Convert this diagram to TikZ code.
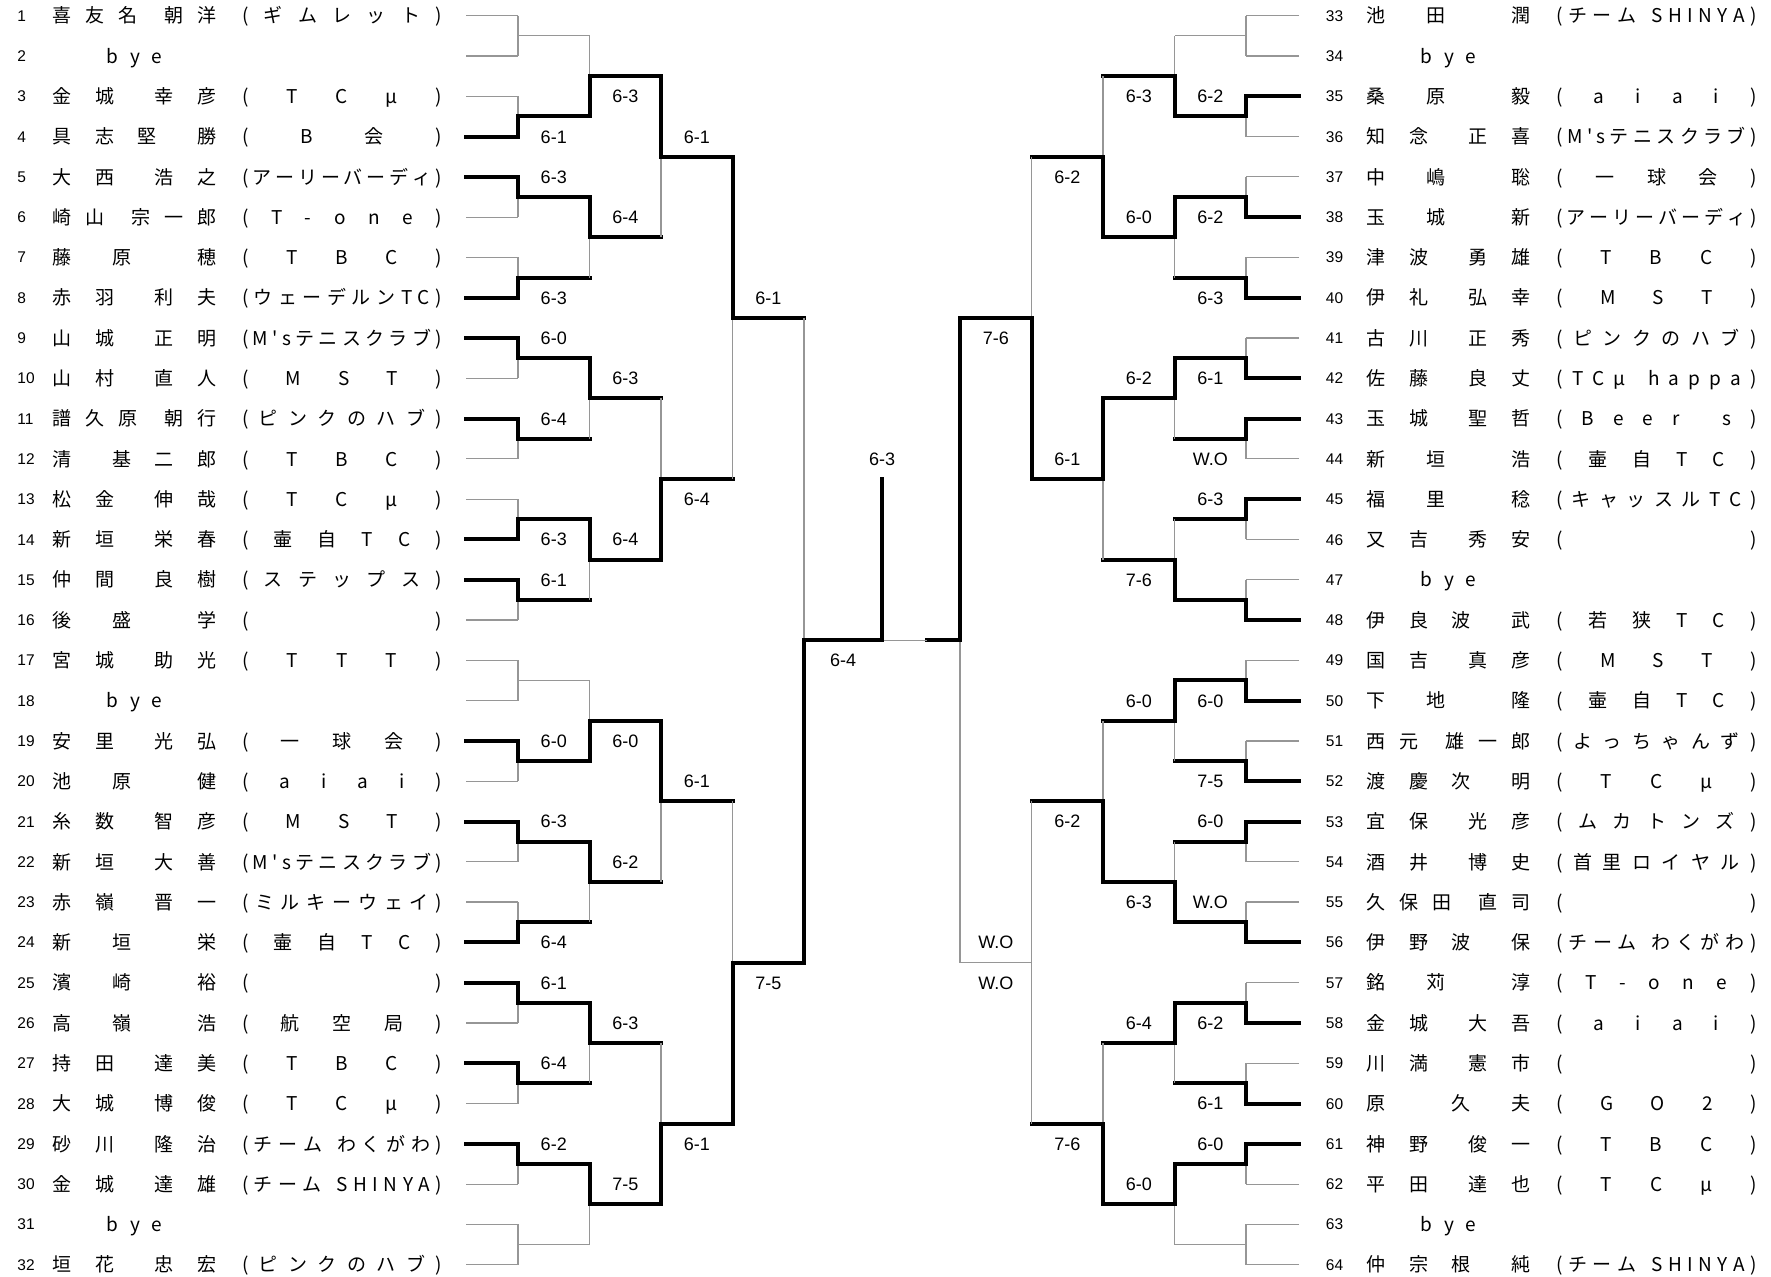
\documentclass[tikz,border=0pt]{standalone}
\usepackage{fontspec}
\setmainfont{Liberation Sans}
\newfontfamily\jp{Noto Sans CJK JP}
\usetikzlibrary{calc}
\definecolor{cWin}{RGB}{0,0,0}
\definecolor{cLose}{RGB}{150,150,150}

% distributed text: equal gaps, | marks the family/given-name split
\newcommand{\spread}[2]{\makebox[#1]{\spreadA#2\relax}}
\def\spreadA#1{#1\spreadB}
\def\spreadB#1{%
  \ifx\relax#1\else
    \ifx|#1\hskip 2.5pt plus .5fill\relax\else\hfill#1\fi
    \expandafter\spreadB
  \fi}

\newcommand{\stepL}{71.5}
\newcommand{\stepR}{-71.5}

% entries: #1 draw number, #2 name, #3 club, #4 line style
\newcommand{\entL}[4]{%
  \node[num] (n#1) at (17,#1) {#1};
  \node[nm]  (m#1) at (134.5,#1) {\spread{82pt}{#2}};
  \node[nm]  (t#1) at (342,#1) {\spread{100pt}{(#3)}};
  \coordinate (q#1) at (466,#1);
  \coordinate (p#1) at (518,#1);
  \draw[#4] (q#1) -- (p#1);
}
\newcommand{\entR}[4]{%
  \node[num] (n#1) at (1325.5,#1-32) {#1};
  \node[nm]  (m#1) at (1448.5,#1-32) {\spread{82pt}{#2}};
  \node[nm]  (t#1) at (1656.5,#1-32) {\spread{100pt}{(#3)}};
  \coordinate (q#1) at (1299,#1-32);
  \coordinate (p#1) at (1246,#1-32);
  \draw[#4] (q#1) -- (p#1);
}
\newcommand{\byeL}[1]{%
  \node[num] (n#1) at (17,#1) {#1};
  \node[nm]  (m#1) at (134.5,#1) {\spread{28pt}{bye}};
  \coordinate (q#1) at (466,#1);
  \coordinate (p#1) at (518,#1);
  \draw[lose] (q#1) -- (p#1);
}
\newcommand{\byeR}[1]{%
  \node[num] (n#1) at (1325.5,#1-32) {#1};
  \node[nm]  (m#1) at (1448.5,#1-32) {\spread{28pt}{bye}};
  \coordinate (q#1) at (1299,#1-32);
  \coordinate (p#1) at (1246,#1-32);
  \draw[lose] (q#1) -- (p#1);
}

% bouts: #1 new slot, #2 upper, #3 lower, #4 winner, #5 step, #6 score, #7 score offset
\newcommand{\bout}[7]{%
  \coordinate (#1) at ($(#2)!.5!(#3)+(#5,0)$);
  \draw[lose] (#2) -- (#3);
  \draw[win] (#4) |- (#1);
  \if\relax\detokenize{#6}\relax\else
    \node[score] (s#1) at ($(#1)+({-(#5)/2},#7)$) {#6};
  \fi
}
\newcommand{\walkover}[4]{%
  \coordinate (#1) at ($(#2)!.5!(#3)+(#4,0)$);
  \draw[lose] (#2) -- (#3) ($(#2)!.5!(#3)$) -- (#1);
}

\begin{document}
\begin{tikzpicture}[
  x=0.5pt, y=-20.145pt,
  num/.style={anchor=west, inner sep=0pt, font=\fontsize{7.75}{9}\selectfont,
              text height=5.55pt, text depth=0pt},
  nm/.style={inner sep=0pt, font=\jp\fontsize{9.5}{11}\selectfont,
             text height=8.36pt, text depth=1.14pt},
  score/.style={inner sep=0pt, font=\fontsize{9}{10}\selectfont,
                text height=6.44pt, text depth=0pt},
  win/.style={draw=cWin, line width=2pt, line cap=rect},
  lose/.style={draw=cLose, line width=0.6pt},
]
\useasboundingbox (0,0.6103) rectangle (1771,32.305);

% ----- left half: entries 1-32 ------------------------------------------
\entL{1}{喜友名|朝洋}{ギムレット}{lose}
\byeL{2}
\entL{3}{金城|幸彦}{TCμ}{lose}
\entL{4}{具志堅|勝}{B会}{win}
\entL{5}{大西|浩之}{アーリーバーディ}{win}
\entL{6}{崎山|宗一郎}{T-one}{lose}
\entL{7}{藤原|穂}{TBC}{lose}
\entL{8}{赤羽|利夫}{ウェーデルンTC}{win}
\entL{9}{山城|正明}{M\textquotesingle sテニスクラブ}{win}
\entL{10}{山村|直人}{MST}{lose}
\entL{11}{譜久原|朝行}{ピンクのハブ}{win}
\entL{12}{清|基二郎}{TBC}{lose}
\entL{13}{松金|伸哉}{TCμ}{lose}
\entL{14}{新垣|栄春}{壷自TC}{win}
\entL{15}{仲間|良樹}{ステップス}{win}
\entL{16}{後盛|学}{}{lose}
\entL{17}{宮城|助光}{TTT}{lose}
\byeL{18}
\entL{19}{安里|光弘}{一球会}{win}
\entL{20}{池原|健}{aiai}{lose}
\entL{21}{糸数|智彦}{MST}{win}
\entL{22}{新垣|大善}{M\textquotesingle sテニスクラブ}{lose}
\entL{23}{赤嶺|晋一}{ミルキーウェイ}{lose}
\entL{24}{新垣|栄}{壷自TC}{win}
\entL{25}{濱崎|裕}{}{win}
\entL{26}{高嶺|浩}{航空局}{lose}
\entL{27}{持田|達美}{TBC}{win}
\entL{28}{大城|博俊}{TCμ}{lose}
\entL{29}{砂川|隆治}{チーム~わくがわ}{win}
\entL{30}{金城|達雄}{チーム~SHINYA}{lose}
\byeL{31}
\entL{32}{垣花|忠宏}{ピンクのハブ}{lose}

% ----- right half: entries 33-64 ----------------------------------------
\entR{33}{池田|潤}{チーム~SHINYA}{lose}
\byeR{34}
\entR{35}{桑原|毅}{aiai}{win}
\entR{36}{知念|正喜}{M\textquotesingle sテニスクラブ}{lose}
\entR{37}{中嶋|聡}{一球会}{lose}
\entR{38}{玉城|新}{アーリーバーディ}{win}
\entR{39}{津波|勇雄}{TBC}{lose}
\entR{40}{伊礼|弘幸}{MST}{win}
\entR{41}{古川|正秀}{ピンクのハブ}{lose}
\entR{42}{佐藤|良丈}{TCμ~happa}{win}
\entR{43}{玉城|聖哲}{Beer~s}{win}
\entR{44}{新垣|浩}{壷自TC}{lose}
\entR{45}{福里|稔}{キャッスルTC}{win}
\entR{46}{又吉|秀安}{}{lose}
\byeR{47}
\entR{48}{伊良波|武}{若狭TC}{win}
\entR{49}{国吉|真彦}{MST}{lose}
\entR{50}{下地|隆}{壷自TC}{win}
\entR{51}{西元|雄一郎}{よっちゃんず}{lose}
\entR{52}{渡慶次|明}{TCμ}{win}
\entR{53}{宜保|光彦}{ムカトンズ}{win}
\entR{54}{酒井|博史}{首里ロイヤル}{lose}
\entR{55}{久保田|直司}{}{lose}
\entR{56}{伊野波|保}{チーム~わくがわ}{win}
\entR{57}{銘苅|淳}{T-one}{lose}
\entR{58}{金城|大吾}{aiai}{win}
\entR{59}{川満|憲市}{}{lose}
\entR{60}{原|久夫}{GO2}{win}
\entR{61}{神野|俊一}{TBC}{win}
\entR{62}{平田|達也}{TCμ}{lose}
\byeR{63}
\entR{64}{仲宗根|純}{チーム~SHINYA}{lose}

% ----- round 1 ----------------------------------------------------------
\walkover{a1}{p1}{p2}{\stepL}
\bout{a2}{p3}{p4}{p4}{\stepL}{6-1}{.5}
\bout{a3}{p5}{p6}{p5}{\stepL}{6-3}{-.5}
\bout{a4}{p7}{p8}{p8}{\stepL}{6-3}{.5}
\bout{a5}{p9}{p10}{p9}{\stepL}{6-0}{-.5}
\bout{a6}{p11}{p12}{p11}{\stepL}{6-4}{-.5}
\bout{a7}{p13}{p14}{p14}{\stepL}{6-3}{.5}
\bout{a8}{p15}{p16}{p15}{\stepL}{6-1}{-.5}
\walkover{a9}{p17}{p18}{\stepL}
\bout{a10}{p19}{p20}{p19}{\stepL}{6-0}{-.5}
\bout{a11}{p21}{p22}{p21}{\stepL}{6-3}{-.5}
\bout{a12}{p23}{p24}{p24}{\stepL}{6-4}{.5}
\bout{a13}{p25}{p26}{p25}{\stepL}{6-1}{-.5}
\bout{a14}{p27}{p28}{p27}{\stepL}{6-4}{-.5}
\bout{a15}{p29}{p30}{p29}{\stepL}{6-2}{-.5}
\walkover{a16}{p31}{p32}{\stepL}

\walkover{a17}{p33}{p34}{\stepR}
\bout{a18}{p35}{p36}{p35}{\stepR}{6-2}{-.5}
\bout{a19}{p37}{p38}{p38}{\stepR}{6-2}{.5}
\bout{a20}{p39}{p40}{p40}{\stepR}{6-3}{.5}
\bout{a21}{p41}{p42}{p42}{\stepR}{6-1}{.5}
\bout{a22}{p43}{p44}{p43}{\stepR}{W.O}{.5}
\bout{a23}{p45}{p46}{p45}{\stepR}{6-3}{-.5}
\bout{a24}{p47}{p48}{p48}{\stepR}{}{0}
\bout{a25}{p49}{p50}{p50}{\stepR}{6-0}{.5}
\bout{a26}{p51}{p52}{p52}{\stepR}{7-5}{.5}
\bout{a27}{p53}{p54}{p53}{\stepR}{6-0}{-.5}
\bout{a28}{p55}{p56}{p56}{\stepR}{W.O}{-.5}
\bout{a29}{p57}{p58}{p58}{\stepR}{6-2}{.5}
\bout{a30}{p59}{p60}{p60}{\stepR}{6-1}{.5}
\bout{a31}{p61}{p62}{p61}{\stepR}{6-0}{-.5}
\walkover{a32}{p63}{p64}{\stepR}

% ----- round 2 ----------------------------------------------------------
\bout{b1}{a1}{a2}{a2}{\stepL}{6-3}{.5}
\bout{b2}{a3}{a4}{a3}{\stepL}{6-4}{-.5}
\bout{b3}{a5}{a6}{a5}{\stepL}{6-3}{-.5}
\bout{b4}{a7}{a8}{a7}{\stepL}{6-4}{-.5}
\bout{b5}{a9}{a10}{a10}{\stepL}{6-0}{.5}
\bout{b6}{a11}{a12}{a11}{\stepL}{6-2}{-.5}
\bout{b7}{a13}{a14}{a13}{\stepL}{6-3}{-.5}
\bout{b8}{a15}{a16}{a15}{\stepL}{7-5}{-.5}

\bout{b9}{a17}{a18}{a18}{\stepR}{6-3}{.5}
\bout{b10}{a19}{a20}{a19}{\stepR}{6-0}{-.5}
\bout{b11}{a21}{a22}{a21}{\stepR}{6-2}{-.5}
\bout{b12}{a23}{a24}{a24}{\stepR}{7-6}{.5}
\bout{b13}{a25}{a26}{a25}{\stepR}{6-0}{-.5}
\bout{b14}{a27}{a28}{a28}{\stepR}{6-3}{.5}
\bout{b15}{a29}{a30}{a29}{\stepR}{6-4}{-.5}
\bout{b16}{a31}{a32}{a31}{\stepR}{6-0}{-.5}

% ----- round 3 ----------------------------------------------------------
\bout{c1}{b1}{b2}{b1}{\stepL}{6-1}{-.5}
\bout{c2}{b3}{b4}{b4}{\stepL}{6-4}{.5}
\bout{c3}{b5}{b6}{b5}{\stepL}{6-1}{-.5}
\bout{c4}{b7}{b8}{b8}{\stepL}{6-1}{.5}

\bout{c5}{b9}{b10}{b10}{\stepR}{6-2}{.5}
\bout{c6}{b11}{b12}{b11}{\stepR}{6-1}{-.5}
\bout{c7}{b13}{b14}{b14}{\stepR}{6-2}{.5}
\bout{c8}{b15}{b16}{b16}{\stepR}{7-6}{.5}

% ----- round 4 ----------------------------------------------------------
\bout{d1}{c1}{c2}{c1}{\stepL}{6-1}{-.5}
\bout{d2}{c3}{c4}{c4}{\stepL}{7-5}{.5}

\bout{d3}{c5}{c6}{c6}{\stepR}{7-6}{.5}
\walkover{d4}{c7}{c8}{\stepR}
\node[score] (wo1) at ($(d4)+(35.75,-.5)$) {W.O};
\node[score] (wo2) at ($(d4)+(35.75,.5)$) {W.O};

% ----- semi-finals and final --------------------------------------------
\bout{e1}{d1}{d2}{d2}{78}{6-4}{.5}
\bout{e2}{d3}{d4}{d3}{-33}{}{0}

\coordinate (champ) at ($(e1)+(0,-4)$);
\draw[lose, shorten >=1pt] (e2) -- (e1);
\draw[win] (e1) -- (champ);
\node[score] (sF) at ($(champ)+(0,-.5)$) {6-3};

\end{tikzpicture}
\end{document}
